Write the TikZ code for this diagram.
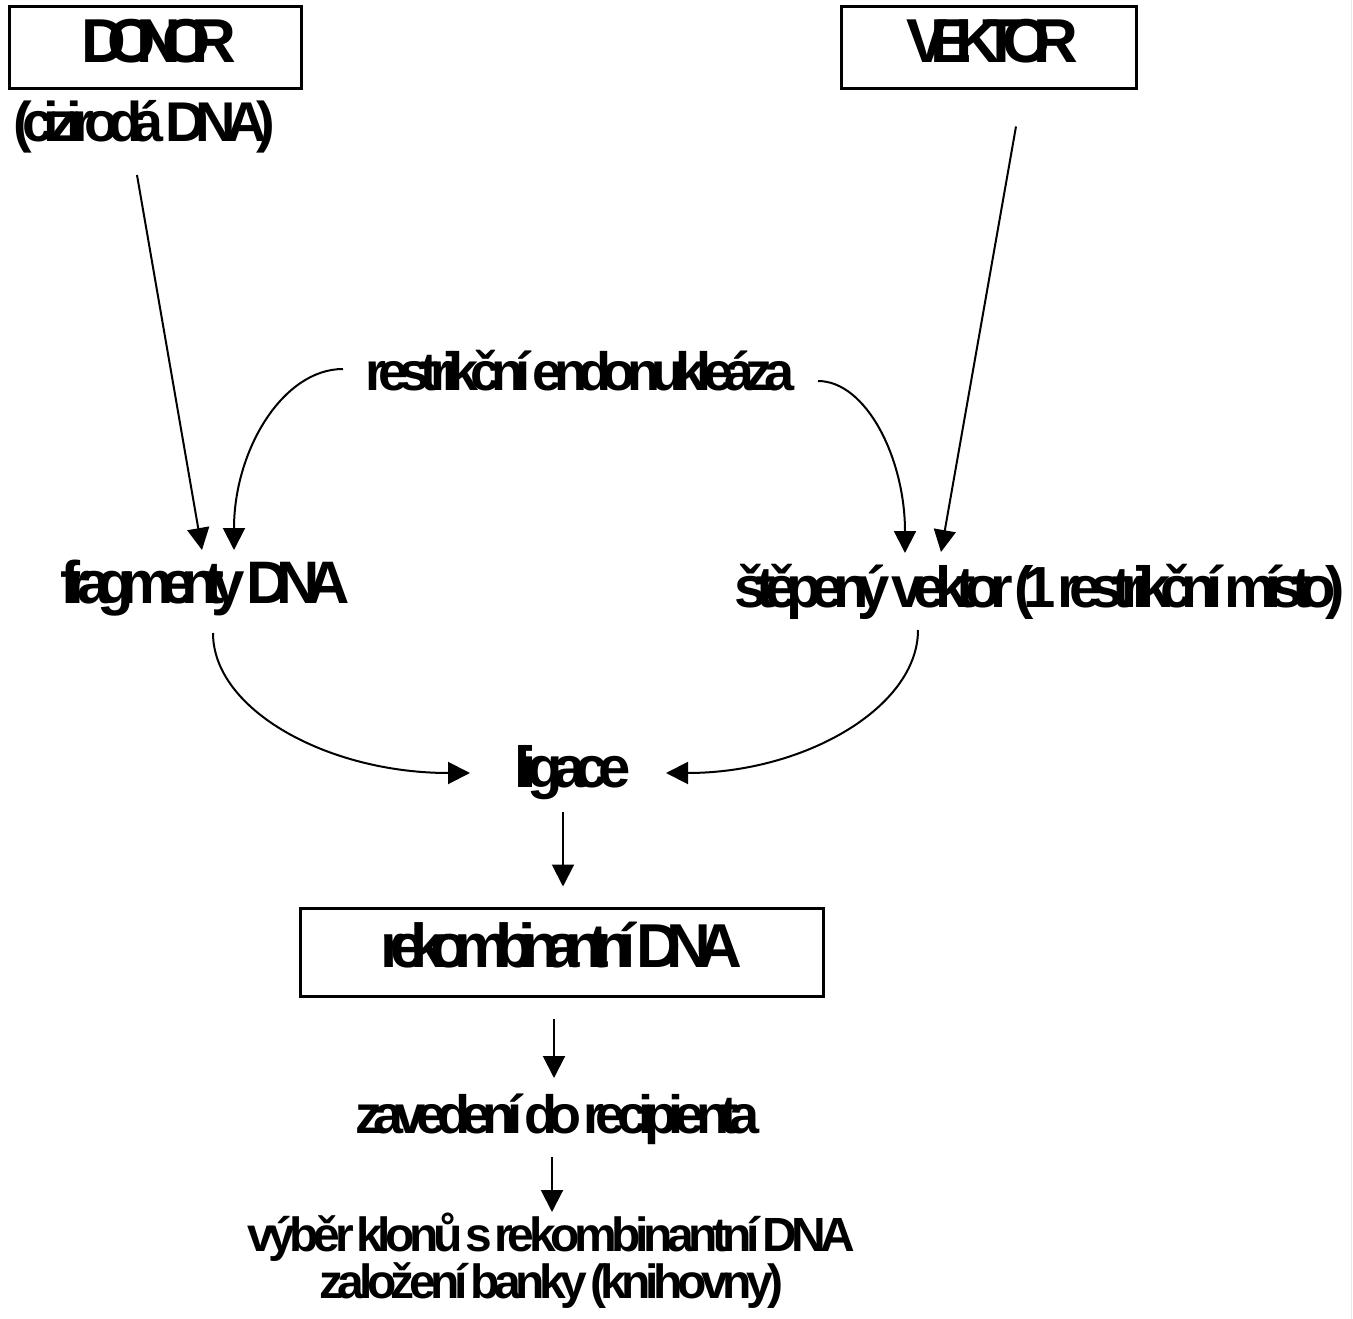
\documentclass[tikz,border=0pt]{standalone}
\usepackage{fontspec}
\setmainfont{Liberation Sans}[WordSpace=0.35]
\usetikzlibrary{calc,arrows.meta}
\tikzset{
  lbl/.style 2 args={inner sep=0pt,anchor=base,font={\fontsize{#1}{41}\selectfont\bfseries\addfontfeature{LetterSpace=#2}}},
  box/.style={draw,line width=3pt,anchor=center,text depth=15pt},
  arr/.style={line width=2pt,-{Triangle[length=22pt,width=22pt]}},
}
\begin{document}
\begin{tikzpicture}[x=1pt,y=-1pt]
\useasboundingbox (0,0) rectangle (1353,1319);
\fill[white] (0,0) rectangle (1353,1319);
\draw[green!20,line width=1.5pt] (1351.5,0)--(1351.5,1319);
% boxes
\node[lbl={62}{-30.6},box,minimum width=292pt,minimum height=82pt] (donor) at (155,48) {\kern8pt DONOR};
\node[lbl={62}{-27.4},box,minimum width=295pt,minimum height=82pt] (vektor) at (988.5,48) {\kern8pt VEKTOR};
\node[lbl={62}{-23.2},box,minimum width=523pt,minimum height=88pt] (rekomb) at (561.5,952) {rekombinantní DNA};
% texts
\node[lbl={56}{-18}] (cizi) at (144.5,142) {(cizirodá DNA)};
\node[lbl={54}{-16.1}] (restr) at (580,390) {restrikční endonukleáza};
\node[lbl={60}{-22}] (frag) at (205,603) {fragmenty DNA};
\node[lbl={58}{-18.4}] (step) at (1040,607) {štěpený vektor (1 restrikční místo)};
\node[lbl={58}{-16.5}] (ligace) at (572.5,787) {ligace};
\node[lbl={54}{-16.3}] (zav) at (557.5,1133) {zavedení do recipienta};
\node[lbl={48}{-11.4},align=center] (vyber) at (551.5,1298) {výběr klonů s rekombinantní DNA\\založení banky (knihovny)};
% arrows
\draw[arr] ($(cizi.base)+(-7.5,33)$)--($(frag.base)+(-3,-53)$);
\draw[arr] ($(vektor.south)+(27.5,36)$)--($(step.base)+(-99,-55)$);
\draw[arr] ($(restr.base)+(-237,-21)$) .. controls +(-60,0) and +(0,-100) .. ($(frag.base)+(29,-53)$);
\draw[arr] ($(restr.base)+(238,-9)$) .. controls +(48,0) and +(0,-95) .. ($(step.base)+(-135,-54)$);
\draw[arr] ($(frag.base)+(8,30)$) .. controls +(0,77) and +(-142,0) .. ($(ligace.base)+(-102.5,-14)$);
\draw[arr] ($(step.base)+(-122,23)$) .. controls +(0,77) and +(139,0) .. ($(ligace.base)+(93.5,-14)$);
\draw[arr] ($(ligace.base)+(-9.5,25)$)--($(rekomb.north)+(1.5,-20)$);
\draw[arr] ($(rekomb.south)+(-7.5,21)$)--($(zav.base)+(-3.5,-55)$);
\draw[arr] ($(zav.base)+(-5.5,24)$)--($(vyber.base)+(0.5,-86)$);
\end{tikzpicture}
\end{document}
